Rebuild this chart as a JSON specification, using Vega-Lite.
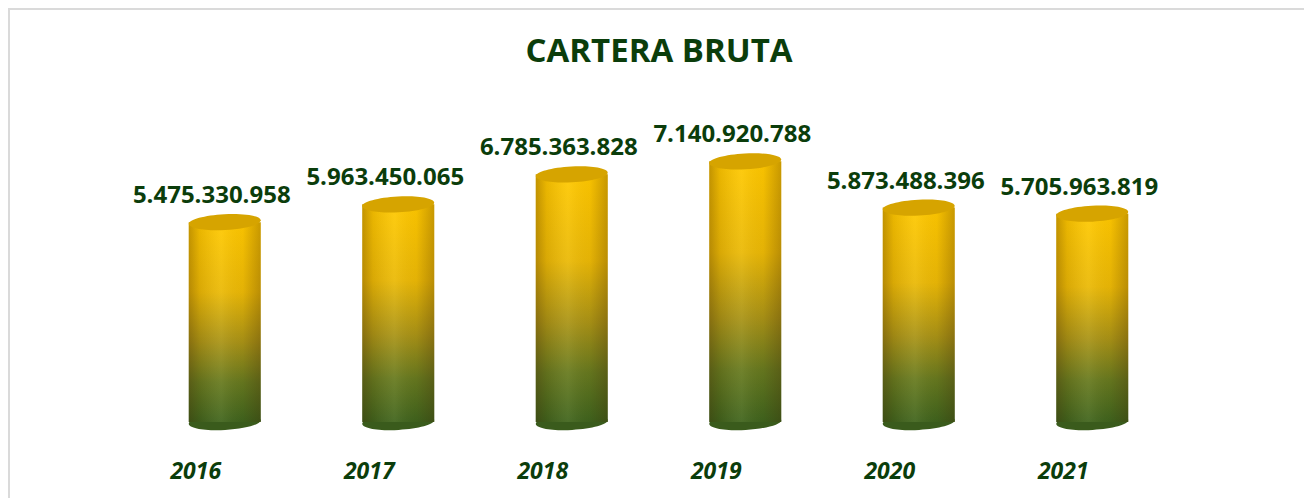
{
  "$schema": "https://vega.github.io/schema/vega-lite/v6.json",
  "width": 1300,
  "height": 495,
  "autosize": {"type": "none"},
  "padding": {"left": 9, "top": 9, "right": 0, "bottom": 0},
  "background": "white",
  "config": {"view": {"stroke": "#dadada", "strokeWidth": 2}},
  "title": {
    "text": "CARTERA BRUTA",
    "font": "Open Sans",
    "fontSize": 33,
    "fontWeight": "bold",
    "color": "#0b3d0b",
    "anchor": "middle",
    "baseline": "alphabetic",
    "offset": -86
  },
  "data": {
    "values": [
      {"year": "2016", "value": 5475330958, "label": "5.475.330.958"},
      {"year": "2017", "value": 5963450065, "label": "5.963.450.065"},
      {"year": "2018", "value": 6785363828, "label": "6.785.363.828"},
      {"year": "2019", "value": 7140920788, "label": "7.140.920.788"},
      {"year": "2020", "value": 5873488396, "label": "5.873.488.396"},
      {"year": "2021", "value": 5705963819, "label": "5.705.963.819"}
    ]
  },
  "encoding": {
    "x": {
      "field": "year",
      "type": "nominal",
      "axis": null,
      "scale": {"range": [129, 1170], "paddingInner": 0.585, "paddingOuter": 0.2925}
    }
  },
  "layer": [
    {
      "mark": {
        "type": "point",
        "filled": true,
        "size": 5184,
        "angle": -3,
        "opacity": 1,
        "color": "#3a5b1c",
        "shape": "M -1 0 C -1 0.1215 -0.5523 0.22 0 0.22 C 0.5523 0.22 1 0.1215 1 0 C 1 -0.1215 0.5523 -0.22 0 -0.22 C -0.5523 -0.22 -1 -0.1215 -1 0 Z"
      },
      "encoding": {"y": {"datum": 0, "type": "quantitative", "axis": null, "scale": {"domain": [0, 8000000000], "range": [413, 121]}}}
    },
    {
      "mark": {
        "type": "bar",
        "color": {
          "gradient": "linear", "x1": 0, "y1": 0, "x2": 0, "y2": 1,
          "stops": [
            {"offset": 0, "color": "#ffc800"},
            {"offset": 0.35, "color": "#eab806"},
            {"offset": 0.6, "color": "#a89216"},
            {"offset": 0.8, "color": "#65781f"},
            {"offset": 1, "color": "#3d621d"}
          ]
        }
      },
      "encoding": {"y": {"field": "value", "type": "quantitative"}}
    },
    {
      "mark": {
        "type": "bar",
        "color": {
          "gradient": "linear", "x1": 0, "y1": 0, "x2": 1, "y2": 0,
          "stops": [
            {"offset": 0, "color": "rgba(60,30,0,0.30)"},
            {"offset": 0.15, "color": "rgba(60,30,0,0.10)"},
            {"offset": 0.45, "color": "rgba(255,255,200,0.08)"},
            {"offset": 0.75, "color": "rgba(60,30,0,0.04)"},
            {"offset": 1, "color": "rgba(60,30,0,0.28)"}
          ]
        }
      },
      "encoding": {"y": {"field": "value", "type": "quantitative"}}
    },
    {
      "mark": {
        "type": "point",
        "filled": true,
        "size": 5184,
        "angle": -3,
        "opacity": 1,
        "color": "#d6a400",
        "shape": "M -1 0 C -1 0.1215 -0.5523 0.22 0 0.22 C 0.5523 0.22 1 0.1215 1 0 C 1 -0.1215 0.5523 -0.22 0 -0.22 C -0.5523 -0.22 -1 -0.1215 -1 0 Z"
      },
      "encoding": {"y": {"field": "value", "type": "quantitative"}}
    },
    {
      "mark": {
        "type": "text",
        "font": "Open Sans",
        "fontSize": 24,
        "fontWeight": "bold",
        "color": "#0b3d0b",
        "baseline": "middle",
        "dx": -13,
        "dy": -26
      },
      "encoding": {
        "y": {"field": "value", "type": "quantitative"},
        "text": {"field": "label"}
      }
    },
    {
      "mark": {
        "type": "text",
        "font": "Open Sans",
        "fontSize": 23,
        "fontWeight": "bold",
        "fontStyle": "italic",
        "color": "#0b3d0b",
        "baseline": "middle",
        "dx": -29,
        "dy": 50
      },
      "encoding": {
        "y": {"datum": 0, "type": "quantitative"},
        "text": {"field": "year"}
      }
    }
  ]
}
